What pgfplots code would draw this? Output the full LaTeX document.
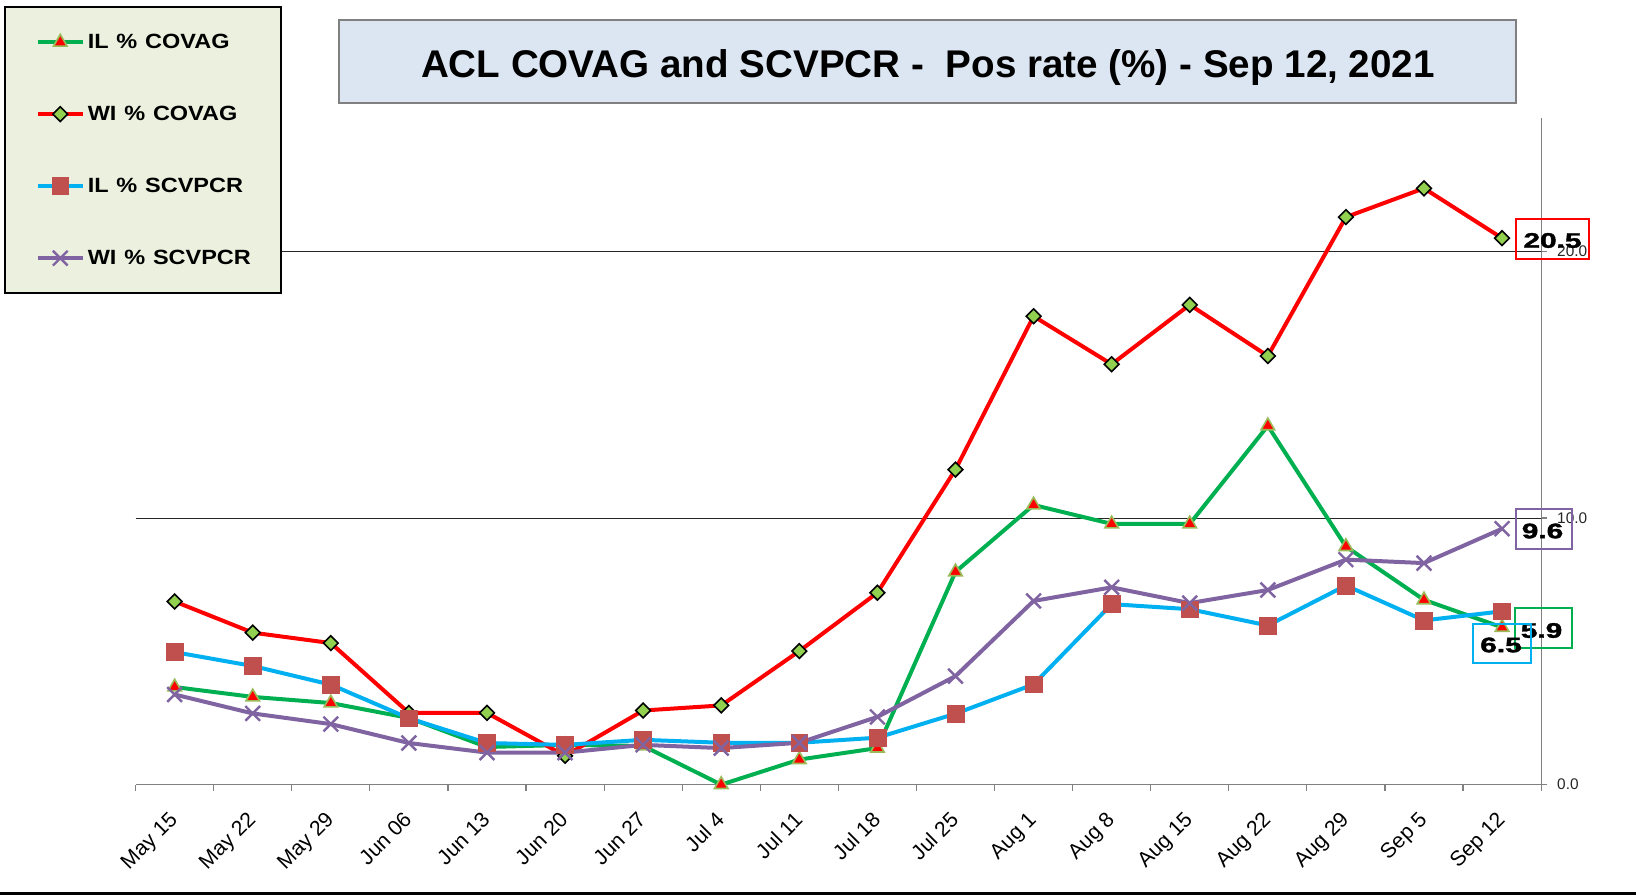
\documentclass[border=0pt]{standalone}
\usepackage{pgfplots}
\pgfplotsset{compat=1.18}
\usepackage{graphicx}
\usepackage{fontspec}
\setmainfont{Liberation Sans}
\newfontfamily\heavyfont{Liberation Sans}[FakeBold=1.5]
\definecolor{cgreen}{HTML}{00B050}
\definecolor{cred}{HTML}{FF0000}
\definecolor{ccyan}{HTML}{00B0F0}
\definecolor{cpurple}{HTML}{8064A2}
\definecolor{dfill}{HTML}{92D050}
\definecolor{tborder}{HTML}{9BBB59}
\definecolor{sqfill}{HTML}{C0504D}
\definecolor{legbg}{HTML}{EBF1DE}
\definecolor{titlebg}{HTML}{DCE6F2}
\begin{document}
\begin{tikzpicture}
\useasboundingbox (0,0) rectangle (818pt,447.5pt);
\fill[black] (0,0) rectangle (818pt,1.5pt);
\draw[draw=gray, fill=titlebg, line width=0.75pt] (169.5pt,396pt) rectangle (758pt,437.5pt);
\node[anchor=base, inner sep=0pt, font=\fontsize{19.3}{20}\selectfont\bfseries] at (464pt,408.5pt) {ACL COVAG and SCVPCR -\ \ Pos rate (\%) - Sep 12, 2021};
\begin{axis}[
  at={(67.8pt,55.2pt)}, anchor=south west,
  scale only axis, width=702.75pt, height=333.2pt,
  xmin=-0.5, xmax=17.5, ymin=0, ymax=25,
  axis x line*=bottom, axis y line*=right,
  axis line style={gray, line width=0.6pt},
  tick align=outside,
  major tick length=3pt,
  xtick={-0.5,0.5,...,17.5}, xticklabels={},
  x tick style={gray, line width=0.6pt},
  extra x ticks={0,1,...,17},
  extra x tick labels={May 15,May 22,May 29,Jun 06,Jun 13,Jun 20,Jun 27,Jul 4,Jul 11,Jul 18,Jul 25,Aug 1,Aug 8,Aug 15,Aug 22,Aug 29,Sep 5,Sep 12},
  extra x tick style={major tick length=0pt},
  xticklabel style={rotate=45, anchor=north east, font=\fontsize{10.6}{12}\selectfont, inner sep=1pt, xshift=-10.3pt, yshift=-5.65pt},
  ytick={0,10,20}, yticklabels={0.0,10.0,20.0},
  y tick style={gray, line width=0.6pt},
  yticklabel style={anchor=west, font=\fontsize{7.7}{9}\selectfont, xshift=1.5pt, text=black!85},
  legend style={at={(-0.09364,1.16782)}, anchor=north west, fill=legbg, draw=black, line width=0.8pt,
    inner xsep=15.5pt, inner ysep=12.5pt, row sep=26pt,
    nodes={inner sep=0pt, text height=8pt, text depth=2pt, text width=81pt, align=left, font=\fontsize{10.3}{12}\selectfont\bfseries},
    /tikz/every odd column/.append style={column sep=1.5pt}},
  legend cell align=left,
  legend image code/.code={\draw[mark repeat=2,mark phase=2,#1] plot coordinates {(0pt,0pt) (11.25pt,0pt) (22.5pt,0pt)};},
]
\draw[black!85, line width=0.5pt] (axis cs:-0.5,10) -- (axis cs:17.58,10);
\draw[black!85, line width=0.5pt] (axis cs:-0.5,20) -- (axis cs:17.58,20);
\addplot[cgreen, line width=2pt, mark=triangle*, mark size=3.9pt, mark options={fill=red, draw=tborder, line width=0.8pt, solid}] coordinates {
(0,3.66) (1,3.29) (2,3.06) (3,2.50) (4,1.41) (5,1.49) (6,1.45) (7,0.0) (8,0.94) (9,1.37) (10,7.98) (11,10.49) (12,9.78) (13,9.78) (14,13.46) (15,8.93) (16,6.93) (17,5.9)};
\addplot[cred, line width=2pt, mark=square*, mark size=2.6pt, mark options={rotate=45, fill=dfill, draw=black, line width=0.8pt, solid}] coordinates {
(0,6.87) (1,5.70) (2,5.31) (3,2.69) (4,2.69) (5,1.08) (6,2.78) (7,2.97) (8,5.01) (9,7.2) (10,11.82) (11,17.57) (12,15.77) (13,18.0) (14,16.08) (15,21.29) (16,22.37) (17,20.5)};
\addplot[ccyan, line width=2pt, mark=square*, mark size=4.2pt, mark options={fill=sqfill, draw=sqfill, line width=0.3pt, solid}] coordinates {
(0,4.97) (1,4.45) (2,3.75) (3,2.49) (4,1.56) (5,1.49) (6,1.68) (7,1.57) (8,1.57) (9,1.76) (10,2.66) (11,3.76) (12,6.77) (13,6.58) (14,5.97) (15,7.47) (16,6.16) (17,6.5)};
\addplot[cpurple, line width=2pt, mark=x, mark size=5.2pt, mark options={line width=1.2pt, solid}] coordinates {
(0,3.38) (1,2.67) (2,2.27) (3,1.56) (4,1.2) (5,1.2) (6,1.49) (7,1.37) (8,1.57) (9,2.54) (10,4.07) (11,6.89) (12,7.4) (13,6.81) (14,7.3) (15,8.44) (16,8.31) (17,9.6)};
\legend{\scalebox{1.14}[1]{IL \% COVAG},\scalebox{1.14}[1]{WI \% COVAG},\scalebox{1.14}[1]{IL \% SCVPCR},\scalebox{1.14}[1]{WI \% SCVPCR}}
\end{axis}
\draw[cred, line width=1pt] (758pt,318pt) rectangle (794.5pt,338pt);
\node[inner sep=0pt, font=\fontsize{10.5}{12}\heavyfont\bfseries] at (776.25pt,327.25pt) {\scalebox{1.42}[1]{20.5}};
\draw[cpurple, line width=1pt] (758pt,173pt) rectangle (786pt,193pt);
\node[inner sep=0pt, font=\fontsize{10.5}{12}\heavyfont\bfseries] at (771.25pt,182pt) {\scalebox{1.42}[1]{9.6}};
\draw[cgreen, line width=1pt] (757.5pt,123.5pt) rectangle (786pt,143.5pt);
\node[inner sep=0pt, font=\fontsize{10.5}{12}\heavyfont\bfseries] at (770.75pt,132.25pt) {\scalebox{1.42}[1]{5.9}};
\draw[ccyan, line width=1pt] (736.5pt,116pt) rectangle (765.5pt,135.5pt);
\node[inner sep=0pt, font=\fontsize{10.5}{12}\heavyfont\bfseries] at (750.5pt,125pt) {\scalebox{1.42}[1]{6.5}};
\end{tikzpicture}
\end{document}
